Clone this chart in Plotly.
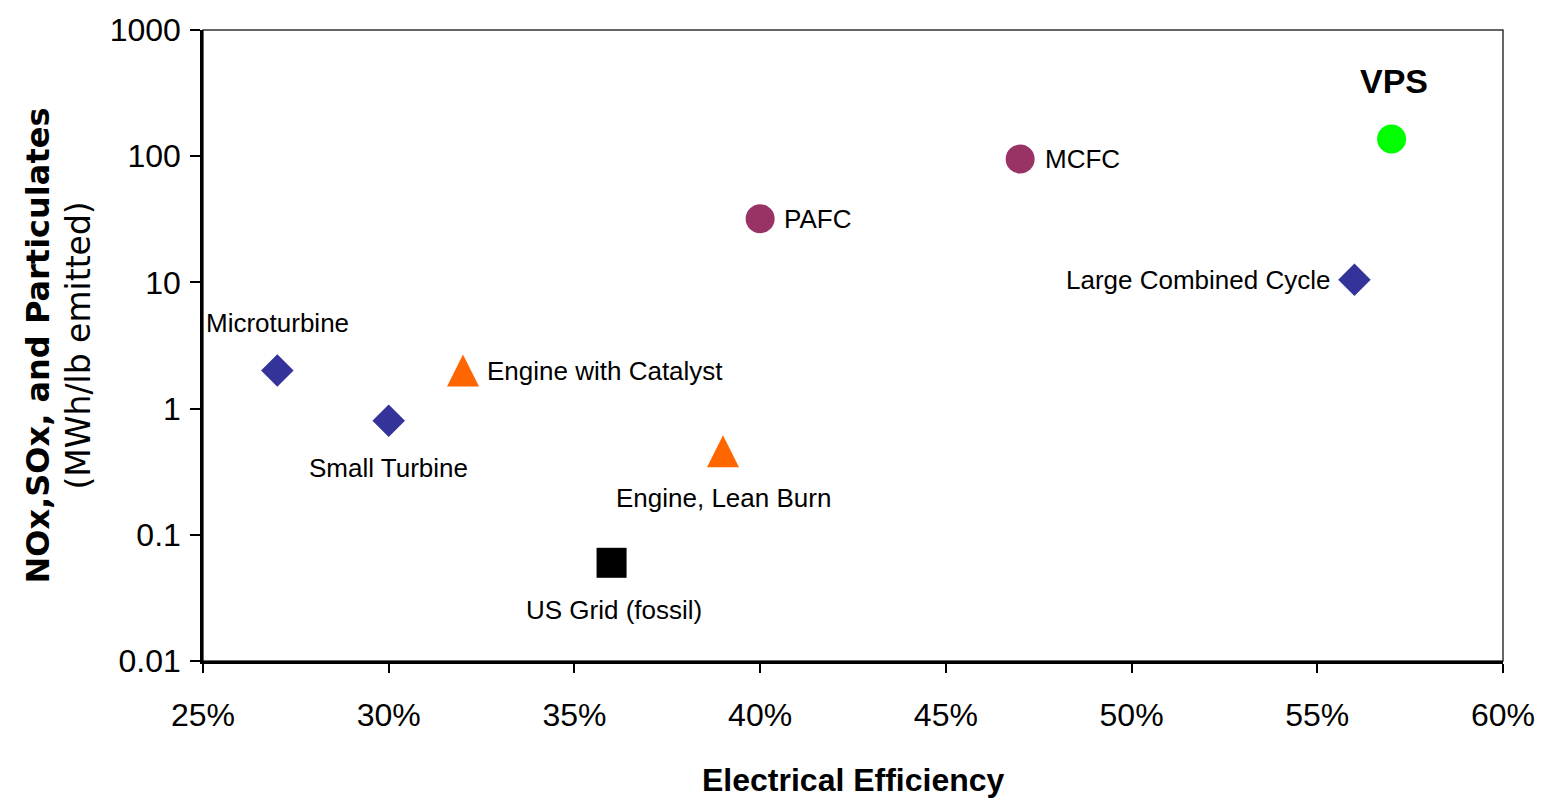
import math
import plotly.graph_objects as go

# Technologies: electrical efficiency vs. emissions (MWh per lb of NOx, SOx and particulates)
names = ["Microturbine", "Small Turbine", "Engine with Catalyst", "Engine, Lean Burn",
         "US Grid (fossil)", "PAFC", "MCFC", "Large Combined Cycle", "VPS"]
efficiency = [0.27, 0.30, 0.32, 0.39, 0.36, 0.40, 0.47, 0.56, 0.57]
mwh_per_lb = [2.0, 0.8, 2.0, 0.46, 0.06, 32, 95, 10.5, 137]

y_tickvals = [0.01, 0.1, 1, 10, 100, 1000]
y_ticktext = ["0.01", "0.1", "1", "10", "100", "1000"]
x_tickvals = [0.25, 0.30, 0.35, 0.40, 0.45, 0.50, 0.55, 0.60]
x_ticktext = ["25%", "30%", "35%", "40%", "45%", "50%", "55%", "60%"]

# Marker styling per technology (upward triangles built from a rotated arrow glyph,
# pushed back by half their height so they sit centred on the point)
symbols = ["diamond", "diamond", "arrow-down", "arrow-down", "square",
           "circle", "circle", "diamond", "circle"]
angles = [0, 0, 180, 180, 0, 0, 0, 0, 0]
colors = ["#333399", "#333399", "#FF6600", "#FF6600", "#000000",
          "#993366", "#993366", "#333399", "#00FF00"]
sizes = [25, 25, 32, 32, 30, 29, 29, 25, 29]
standoffs = [0, 0, 16, 16, 0, 0, 0, 0, 0]

# Label placement relative to each marker (pixels, anchors)
label_style = [
    dict(xshift=0, yshift=48, xanchor="center"),
    dict(xshift=0, yshift=-47, xanchor="center"),
    dict(xshift=22, yshift=0, xanchor="left"),
    dict(xshift=0, yshift=-47, xanchor="center"),
    dict(xshift=2, yshift=-47, xanchor="center"),
    dict(xshift=22, yshift=0, xanchor="left"),
    dict(xshift=23, yshift=0, xanchor="left"),
    dict(xshift=-22, yshift=0, xanchor="right"),
    dict(xshift=2, yshift=58, xanchor="center"),
]

SANS = "Liberation Sans, Arial, sans-serif"

fig = go.Figure()
fig.add_trace(go.Scatter(
    x=efficiency, y=mwh_per_lb, mode="markers",
    marker=dict(symbol=symbols, angle=angles, color=colors, size=sizes,
                standoff=standoffs, opacity=1, line=dict(width=0)),
    hovertext=names, hoverinfo="text", showlegend=False,
))

annotations = []
for name, xv, yv, st in zip(names, efficiency, mwh_per_lb, label_style):
    bold = name == "VPS"
    annotations.append(dict(
        x=xv, y=math.log10(yv), xref="x", yref="y",
        text=f"<b>{name}</b>" if bold else name,
        showarrow=False, xanchor=st["xanchor"], yanchor="middle",
        xshift=st["xshift"], yshift=st["yshift"],
        font=dict(family=SANS, size=34 if bold else 26, color="#000000"),
    ))

# Axis titles
annotations.append(dict(
    x=0.5, y=0, xref="paper", yref="paper", yshift=-119,
    text="<b>Electrical Efficiency</b>", showarrow=False,
    xanchor="center", yanchor="middle",
    font=dict(family=SANS, size=32, color="#000000"),
))
annotations.append(dict(
    x=0, y=0.5, xref="paper", yref="paper", xshift=-166,
    text="<b>NOx,SOx, and Particulates</b>", showarrow=False, textangle=-90,
    xanchor="center", yanchor="middle",
    font=dict(family="DejaVu Sans, sans-serif", size=32, color="#000000"),
))
annotations.append(dict(
    x=0, y=0.5, xref="paper", yref="paper", xshift=-125,
    text="(MWh/lb emitted)", showarrow=False, textangle=-90,
    xanchor="center", yanchor="middle",
    font=dict(family="DejaVu Sans, sans-serif", size=33, color="#000000"),
))

fig.update_layout(
    width=1547, height=808,
    margin=dict(l=203, r=42, t=29, b=147),
    paper_bgcolor="white", plot_bgcolor="white",
    annotations=annotations,
    shapes=[dict(type="rect", xref="paper", yref="paper", x0=0, x1=1, y0=0, y1=1,
                 line=dict(color="#333333", width=1.5), layer="below")],
    xaxis=dict(
        range=[0.25, 0.60], tickvals=x_tickvals, ticktext=x_ticktext,
        showgrid=False, zeroline=False, showline=True, linecolor="#000000", linewidth=2.5,
        ticks="outside", ticklen=9, tickwidth=1.5, tickcolor="#000000",
        ticklabelstandoff=15,
        tickfont=dict(family=SANS, size=32, color="#000000"),
    ),
    yaxis=dict(
        type="log", range=[-2, 3], tickvals=y_tickvals, ticktext=y_ticktext,
        showgrid=False, zeroline=False, showline=True, linecolor="#000000", linewidth=2.5,
        ticks="outside", ticklen=10, tickwidth=1.5, tickcolor="#000000",
        ticklabelstandoff=3,
        tickfont=dict(family=SANS, size=32, color="#000000"),
    ),
)

fig.write_html("out.html")
